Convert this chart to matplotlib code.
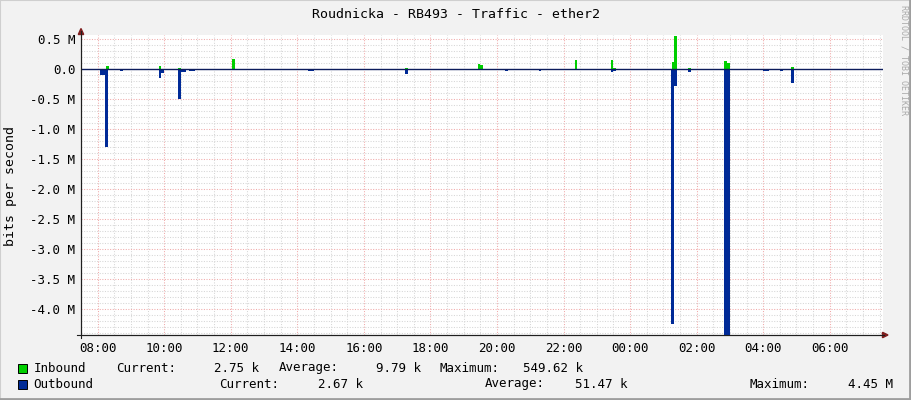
import matplotlib
matplotlib.use("Agg")
import matplotlib.pyplot as plt
from matplotlib.patches import Rectangle, Polygon
from matplotlib.lines import Line2D
import numpy as np

# 5 minute samples with traffic (start time, Mbit/s), rest of the day is ~0
in_times = ["08:15", "09:50", "10:25", "12:03", "17:15", "19:25", "19:30",
            "22:20", "23:25", "23:30", "01:15", "01:20", "01:45",
            "02:50", "02:55", "04:50"]
in_vals = [0.055, 0.055, 0.03, 0.17, 0.02, 0.09, 0.07,
           0.155, 0.155, 0.02, 0.12, 0.55, 0.03,
           0.14, 0.10, 0.045]

out_times = ["08:05", "08:10", "08:14", "08:40", "09:50", "09:55", "10:25", "10:30",
             "10:35", "10:45", "10:50", "12:00", "12:05", "14:20", "14:25", "17:15",
             "20:15", "21:15", "22:20", "23:25", "23:30", "01:14", "01:20", "01:45",
             "02:50", "02:55", "04:00", "04:05", "04:30", "04:50"]
out_vals = [-0.1, -0.1, -1.3, -0.02, -0.14, -0.06, -0.49, -0.04,
            -0.04, -0.02, -0.02, -0.01, -0.01, -0.02, -0.02, -0.07,
            -0.02, -0.02, -0.01, -0.05, -0.02, -4.24, -0.27, -0.04,
            -4.45, -4.45, -0.02, -0.02, -0.02, -0.22]

hour_ticks = [8, 10, 12, 14, 16, 18, 20, 22, 24, 26, 28, 30]
hour_labels = ["08:00", "10:00", "12:00", "14:00", "16:00", "18:00",
               "20:00", "22:00", "00:00", "02:00", "04:00", "06:00"]
y_ticks = [0.5, 0.0, -0.5, -1.0, -1.5, -2.0, -2.5, -3.0, -3.5, -4.0]

title = "Roudnicka - RB493 - Traffic - ether2"
W, H = 911, 400
MONO = "DejaVu Sans Mono"


def hrs(s):
    h, m = s.split(":")
    t = int(h) + int(m) / 60
    if t < 7.5:
        t += 24
    return t


def fx(x):
    return x / W


def fy(y):
    return 1 - y / H


fig = plt.figure(figsize=(W / 100, H / 100), dpi=100, facecolor="#F2F2F2")

# 3d-ish border like rrdtool
fig.add_artist(Rectangle((0, 0), 1, 1, transform=fig.transFigure, fill=False,
                         edgecolor="#CFCFCF", lw=1.5))
fig.add_artist(Line2D([fx(909.5), fx(909.5)], [0, 1], transform=fig.transFigure,
                      color="#9E9E9E", lw=2))
fig.add_artist(Line2D([0, 1], [fy(398.5), fy(398.5)], transform=fig.transFigure,
                      color="#9E9E9E", lw=2))

ax = fig.add_axes([fx(81), fy(335), fx(882.7) - fx(81), fy(35) - fy(335)])
ax.set_facecolor("white")
ax.set_xlim(7.56, 7.56 + 801 / 33.333)
ax.set_ylim(-4.428, 0.572)

ax.bar([hrs(t) for t in in_times], in_vals, width=5 / 60, align="edge",
       color="#00CF00", linewidth=0, zorder=3)
ax.bar([hrs(t) for t in out_times], out_vals, width=5 / 60, align="edge",
       color="#002A97", linewidth=0, zorder=3)
ax.axhline(0, color="#0c1c5c", lw=1.0, zorder=4)

ax.set_xticks(hour_ticks)
ax.set_xticklabels(hour_labels)
ax.set_xticks(np.arange(7.5, 32, 0.5), minor=True)
ax.set_yticks(y_ticks)
ax.set_yticklabels([f"{v:.1f} M" if v != 0 else "0.0" for v in y_ticks])
ax.set_yticks(np.arange(-4.4, 0.6, 0.1), minor=True)
ax.tick_params(which="both", length=0)
ax.tick_params(axis="x", pad=5)
ax.tick_params(axis="y", pad=4)
for lab in ax.get_xticklabels() + ax.get_yticklabels():
    lab.set_fontfamily(MONO)
    lab.set_fontsize(9)

ax.grid(which="minor", color="#D6D6D6", lw=0.75, linestyle=(0, (1, 1.5)), zorder=1)
ax.grid(which="major", color="#F0AAAA", lw=0.75, linestyle=(0, (1, 1.5)), zorder=2)
ax.set_axisbelow(True)

for s in ["top", "right"]:
    ax.spines[s].set_visible(False)
for s in ["left", "bottom"]:
    ax.spines[s].set_color("#1F1F1F")
    ax.spines[s].set_linewidth(0.8)

# axis extensions + arrows
fig.add_artist(Line2D([fx(77), fx(884)], [fy(335), fy(335)], transform=fig.transFigure,
                      color="#1F1F1F", lw=0.8))
fig.add_artist(Line2D([fx(81), fx(81)], [fy(338), fy(31)], transform=fig.transFigure,
                      color="#1F1F1F", lw=0.8))
fig.add_artist(Polygon([(fx(81), fy(28.5)), (fx(78.3), fy(34.5)), (fx(83.7), fy(34.5))],
                       transform=fig.transFigure, color="#801F1F"))
fig.add_artist(Polygon([(fx(888), fy(335)), (fx(882.5), fy(332.3)), (fx(882.5), fy(337.7))],
                       transform=fig.transFigure, color="#801F1F"))

fig.text(0.5, fy(14), title, ha="center", va="center", family=MONO, fontsize=9.5)
fig.text(fx(11), fy(186), "bits per second", rotation=90, ha="center", va="center",
         family=MONO, fontsize=9.5)
fig.text(fx(904), fy(5), "RRDTOOL / TOBI OETIKER", rotation=270, ha="center", va="top",
         family=MONO, fontsize=6, color="#AAAAAA")

# legend rows
rows = [
    (368, "#00CF00", [("Inbound", 33.7, "left"), ("Current:", 116, "left"),
                      ("2.75 k", 259, "right"), ("Average:", 279, "left"),
                      ("9.79 k", 421, "right"), ("Maximum:", 440, "left"),
                      ("549.62 k", 583, "right")]),
    (384, "#002A97", [("Outbound", 33.7, "left"), ("Current:", 219.6, "left"),
                      ("2.67 k", 362.6, "right"), ("Average:", 484.6, "left"),
                      ("51.47 k", 627.5, "right"), ("Maximum:", 749.5, "left"),
                      ("4.45 M", 893, "right")]),
]
for y, col, items in rows:
    fig.add_artist(Rectangle((fx(17.5), fy(y + 4.5)), 9.5 / W, 9 / H,
                             transform=fig.transFigure, facecolor=col,
                             edgecolor="black", lw=0.7))
    for txt, x, ha in items:
        fig.text(fx(x), fy(y), txt, ha=ha, va="center", family=MONO, fontsize=9)

fig.savefig("out.png", dpi=100, facecolor=fig.get_facecolor())
